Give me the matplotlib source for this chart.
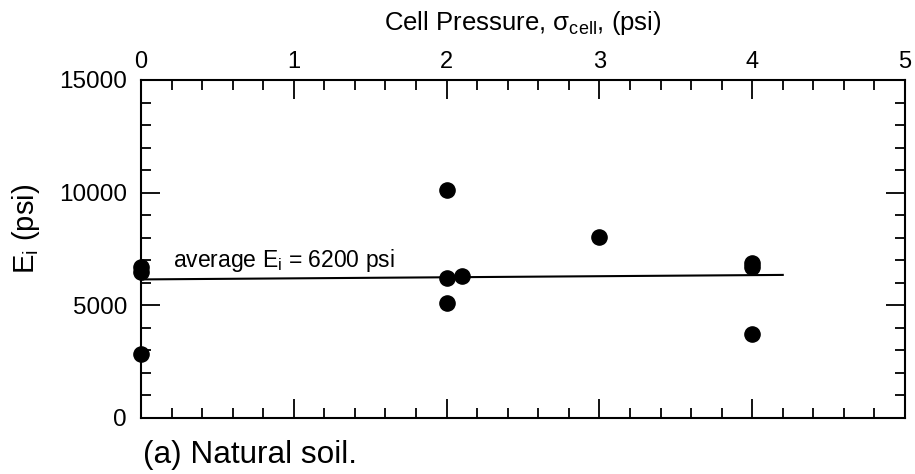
import numpy as np
import matplotlib.pyplot as plt
from matplotlib.ticker import MultipleLocator

# cell pressure (psi) and initial modulus (psi)
cell_pressure = [0, 0, 0, 2, 2, 2.1, 2, 3, 4, 4, 4]
E_i = [6700, 6500, 2850, 10100, 6230, 6300, 5100, 8050, 6900, 6700, 3750]

# average line, drawn slightly tilted as in the scanned original
avg_x = [0, 4.2]
avg_y = [6150, 6350]

x_ticks = [0, 1, 2, 3, 4, 5]
y_ticks = [0, 5000, 10000, 15000]

plt.rcParams['font.family'] = ['Liberation Sans', 'DejaVu Sans']

fig = plt.figure(figsize=(9.15, 4.74), dpi=100)
ax = fig.add_axes([141 / 915, 1 - 418 / 474, (905 - 141) / 915, (418 - 80) / 474])

ax.scatter(cell_pressure, E_i, s=120, color='black', zorder=3, clip_on=False)
ax.plot(avg_x, avg_y, color='black', lw=1.5)
ax.text(0.21, 6720, 'average E$_\\mathregular{i}$ = 6200 psi', fontsize=16.5)

ax.set_xlim(0, 5)
ax.set_ylim(0, 15000)
ax.set_xticks(x_ticks)
ax.set_yticks(y_ticks)
ax.xaxis.set_minor_locator(MultipleLocator(0.2))
ax.yaxis.set_minor_locator(MultipleLocator(1000))

ax.xaxis.tick_top()
ax.xaxis.set_label_position('top')
ax.tick_params(which='both', direction='in', top=True, bottom=True, left=True, right=True,
               labeltop=True, labelbottom=False, labelleft=True, labelright=False,
               width=1.3)
ax.tick_params(which='major', length=14)
ax.tick_params(which='minor', length=7)
ax.tick_params(axis='x', which='major', labelsize=17, pad=5)
ax.tick_params(axis='y', which='major', labelsize=17.5, pad=10)
for sp in ax.spines.values():
    sp.set_linewidth(1.5)

ax.set_xlabel('Cell Pressure, $\\mathregular{\\sigma_{cell}}$, (psi)', fontsize=18.5, labelpad=15)
ax.set_ylabel('E$_\\mathregular{i}$ (psi)', fontsize=21)
ax.yaxis.set_label_coords(26 / 915, 1 - 229 / 474, transform=fig.transFigure)
ax.yaxis.label.set_va('center')

fig.text(143 / 915, 1 - 463 / 474, '(a) Natural soil.', fontsize=22.7)

fig.savefig('out.png', dpi=100)
